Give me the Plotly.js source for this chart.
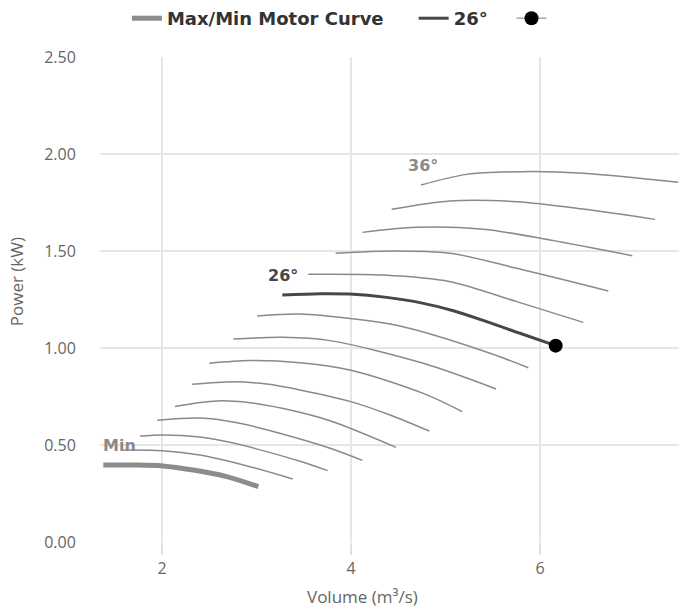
<!DOCTYPE html>
<html>
<head>
<meta charset="utf-8">
<script src="https://cdn.plot.ly/plotly-3.0.1.min.js"></script>
<style>html,body{margin:0;padding:0;background:#fff;}#chart{width:679px;height:609px;}</style>
</head>
<body>
<div id="chart"></div>
<script>
// Min motor curve
const volMin = [1.379, 1.696, 2.007, 2.331, 2.685, 3.019];
const powMin = [0.397, 0.397, 0.392, 0.371, 0.337, 0.285];
// blade angle curves (thin)
const vol10 = [1.587, 2.007, 2.402, 2.931, 3.383];
const pow10 = [0.474, 0.471, 0.448, 0.388, 0.325];
const vol12 = [1.767, 2.007, 2.402, 2.755, 3.108, 3.460, 3.753];
const pow12 = [0.546, 0.552, 0.541, 0.510, 0.466, 0.416, 0.368];
const vol14 = [1.950, 2.402, 2.825, 3.284, 3.778, 4.120];
const pow14 = [0.627, 0.639, 0.612, 0.555, 0.483, 0.421];
const vol16 = [2.138, 2.579, 2.931, 3.284, 3.778, 4.476];
const pow16 = [0.699, 0.727, 0.718, 0.688, 0.625, 0.488];
const vol18 = [2.320, 2.755, 3.108, 3.460, 3.989, 4.413, 4.829];
const pow18 = [0.813, 0.826, 0.814, 0.784, 0.725, 0.655, 0.572];
const vol20 = [2.501, 2.931, 3.460, 3.989, 4.765, 5.178];
const pow20 = [0.921, 0.935, 0.924, 0.887, 0.766, 0.672];
const vol22 = [2.755, 3.284, 3.778, 4.765, 5.534];
const pow22 = [1.046, 1.055, 1.038, 0.921, 0.789];
const vol24 = [3.008, 3.460, 3.989, 4.519, 5.471, 5.876];
const pow24 = [1.165, 1.175, 1.152, 1.113, 0.973, 0.898];
// selected 26° curve
const vol26 = [3.273, 3.672, 3.989, 4.378, 4.730, 5.083, 5.436, 5.788, 6.166];
const pow26 = [1.273, 1.280, 1.278, 1.261, 1.234, 1.192, 1.136, 1.076, 1.012];
const vol28 = [3.548, 4.342, 5.048, 5.754, 6.458];
const pow28 = [1.380, 1.376, 1.342, 1.239, 1.132];
const vol30 = [3.838, 4.448, 5.048, 5.754, 6.723];
const pow30 = [1.488, 1.500, 1.488, 1.411, 1.294];
const vol32 = [4.120, 4.695, 5.400, 6.106, 6.977];
const pow32 = [1.596, 1.622, 1.612, 1.557, 1.476];
const vol34 = [4.431, 5.048, 5.754, 6.458, 7.217];
const pow34 = [1.715, 1.758, 1.754, 1.716, 1.663];
const vol36 = [4.741, 5.224, 5.823, 6.458, 7.463];
const pow36 = [1.840, 1.895, 1.909, 1.901, 1.854];
// duty point
const dutyVol = [6.166];
const dutyPow = [1.012];
// labels
const labelText = ["Min", "26°", "36°"];
const labelVol = [1.35, 3.28, 4.757];
const labelPow = [0.50, 1.376, 1.943];
const xTickVals = [2, 4, 6];
const yTickVals = [0, 0.5, 1.0, 1.5, 2.0, 2.5];

const thinVols = [vol10, vol12, vol14, vol16, vol18, vol20, vol22, vol24, vol28, vol30, vol32, vol34, vol36];
const thinPows = [pow10, pow12, pow14, pow16, pow18, pow20, pow22, pow24, pow28, pow30, pow32, pow34, pow36];

const traces = [];
traces.push({x: volMin, y: powMin, mode: 'lines', name: 'Max/Min Motor Curve&nbsp;&nbsp;&nbsp;&nbsp;',
  line: {color: '#8c8c8c', width: 5, shape: 'spline', smoothing: 0.9}, hoverinfo: 'skip'});
traces.push({x: vol26, y: pow26, mode: 'lines', name: '26°&nbsp;&nbsp;&nbsp;',
  line: {color: '#474747', width: 3, shape: 'spline', smoothing: 0.9}, hoverinfo: 'skip'});
traces.push({x: dutyVol, y: dutyPow, mode: 'lines+markers', name: ' ',
  line: {color: '#aaaaaa', width: 1.5}, marker: {color: '#000', size: 14}, hoverinfo: 'skip'});
for (let i = 0; i < thinVols.length; i++) {
  traces.push({x: thinVols[i], y: thinPows[i], mode: 'lines', showlegend: false,
    line: {color: '#8a8a8a', width: 1.5, shape: 'spline', smoothing: 0.9}, hoverinfo: 'skip'});
}

const labelColors = ['#8a8a8a', '#474747', '#8a8a8a'];
const annotations = labelText.map((t, i) => ({
  x: labelVol[i], y: labelPow[i], xref: 'x', yref: 'y', text: t, showarrow: false,
  xanchor: i === 0 ? 'left' : 'center', yanchor: 'middle',
  font: {family: 'DejaVu Sans', size: 16, color: labelColors[i], weight: 'bold'}
}));
annotations.push({x: 0.454, y: -0.113, xref: 'paper', yref: 'paper', text: 'Volume (m³/s)',
  showarrow: false, xanchor: 'center', yanchor: 'middle',
  font: {family: 'Open Sans', size: 17, color: '#666'}});
annotations.push({x: -0.144, y: 0.537, xref: 'paper', yref: 'paper', text: 'Power (kW)',
  showarrow: false, xanchor: 'center', yanchor: 'middle', textangle: -90,
  font: {family: 'Open Sans', size: 17, color: '#666'}});

const layout = {
  width: 679, height: 609,
  margin: {l: 100, r: 0, t: 57, b: 67},
  paper_bgcolor: '#fff', plot_bgcolor: '#fff',
  showlegend: true,
  legend: {orientation: 'h', xref: 'container', yref: 'container', x: 0.508, y: 1.0,
    xanchor: 'center', yanchor: 'top', itemwidth: 30,
    font: {family: 'DejaVu Sans', size: 18, color: '#333', weight: 'bold'}},
  xaxis: {range: [1.344, 7.471], tickvals: xTickVals, ticktext: xTickVals.map(String),
    showgrid: true, gridcolor: '#e6e6e6', gridwidth: 1.5, zeroline: false, showline: false,
    ticks: 'outside', ticklen: 12, tickcolor: '#e0e0e0', tickwidth: 1.5,
    tickfont: {family: 'Open Sans', size: 16, color: '#666'}},
  yaxis: {range: [0, 2.5], tickvals: yTickVals, tickformat: '.2f',
    showgrid: true, gridcolor: '#e6e6e6', gridwidth: 1.5, zeroline: false, showline: false,
    ticks: 'outside', ticklen: 20, tickcolor: 'rgba(0,0,0,0)',
    tickfont: {family: 'Open Sans', size: 16, color: '#666'}},
  annotations: annotations
};

Plotly.newPlot('chart', traces, layout, {staticPlot: true, displayModeBar: false});
</script>
</body>
</html>
